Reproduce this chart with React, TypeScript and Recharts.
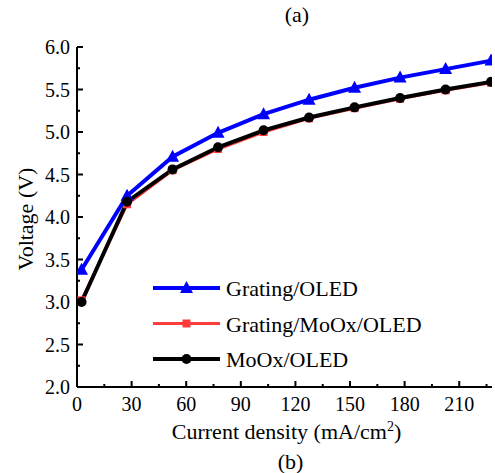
import { LineChart, Line, XAxis, YAxis } from "recharts";

// current density (mA/cm2) and voltage (V) per device
const currentDensity = [2.5, 27.5, 52.5, 77.5, 102.5, 127.5, 152.5, 177.5, 202.5, 227.5];
const gratingOled = [3.38, 4.25, 4.71, 4.99, 5.21, 5.38, 5.52, 5.64, 5.74, 5.84];
const gratingMoOxOled = [3.02, 4.15, 4.55, 4.8, 5.0, 5.16, 5.28, 5.39, 5.49, 5.58];
const moOxOled = [3.0, 4.18, 4.56, 4.82, 5.02, 5.17, 5.29, 5.4, 5.5, 5.59];

const xTicks = [0, 15, 30, 45, 60, 75, 90, 105, 120, 135, 150, 165, 180, 195, 210, 225];
const xMajor = [0, 30, 60, 90, 120, 150, 180, 210];
const yTicks = [2.0, 2.25, 2.5, 2.75, 3.0, 3.25, 3.5, 3.75, 4.0, 4.25, 4.5, 4.75, 5.0, 5.25, 5.5, 5.75, 6.0];
const yMajor = [2.0, 2.5, 3.0, 3.5, 4.0, 4.5, 5.0, 5.5, 6.0];

const data = currentDensity.map((x, i) => ({
  x,
  grating: gratingOled[i],
  gratingMoOx: gratingMoOxOled[i],
  moOx: moOxOled[i],
}));

const FONT = "Liberation Serif, serif";
const BLUE = "#0000ff";
const RED = "#ff3b3b";
const BLACK = "#000000";

const series = [
  { key: "grating", name: "Grating/OLED", color: BLUE, width: 4, shape: "triangle" },
  { key: "gratingMoOx", name: "Grating/MoOx/OLED", color: RED, width: 3, shape: "square" },
  { key: "moOx", name: "MoOx/OLED", color: BLACK, width: 4, shape: "circle" },
];

function Marker({ cx, cy, shape, color }: any) {
  if (cx == null || cy == null) return null;
  if (shape === "triangle")
    return <polygon points={`${cx},${cy - 7} ${cx - 6.5},${cy + 5} ${cx + 6.5},${cy + 5}`} fill={color} />;
  if (shape === "square") return <rect x={cx - 4} y={cy - 4} width={8} height={8} fill={color} />;
  return <circle cx={cx} cy={cy} r={5} fill={color} />;
}

const BottomTick = ({ x, y, payload }: any) => {
  const major = xMajor.includes(payload.value);
  return (
    <g>
      <line x1={x} x2={x} y1={y} y2={y - (major ? 6 : 3)} stroke="#000" strokeWidth={2} />
      {major && (
        <text x={x} y={y + 24} textAnchor="middle" fontFamily={FONT} fontSize={20} fill="#000">
          {payload.value}
        </text>
      )}
    </g>
  );
};

const LeftTick = ({ x, y, payload }: any) => {
  const major = yMajor.includes(payload.value);
  return (
    <g>
      <line x1={x} x2={x + (major ? 6 : 3)} y1={y} y2={y} stroke="#000" strokeWidth={2} />
      {major && (
        <text x={x - 7} y={y + 7} textAnchor="end" fontFamily={FONT} fontSize={20} fill="#000">
          {payload.value.toFixed(1)}
        </text>
      )}
    </g>
  );
};

const TopTick = ({ x, y }: any) => (
  <line x1={x} x2={x} y1={y} y2={y + 6} stroke="#000" strokeWidth={2} />
);

const RightTick = ({ x, y }: any) => (
  <line x1={x} x2={x - 6} y1={y} y2={y} stroke="#000" strokeWidth={2} />
);

// legend and panel caption drawn on top of the chart
const Overlay = () => (
  <svg width={495} height={473} style={{ position: "absolute", left: 0, top: 0, pointerEvents: "none" }}>
    <text x={297} y={22} textAnchor="middle" fontFamily={FONT} fontSize={22} fill="#000">
      (a)
    </text>
    {series.map((s, i) => {
      const cy = 288 + i * 35.5;
      return (
        <g key={s.key}>
          <line x1={153} x2={220} y1={cy} y2={cy} stroke={s.color} strokeWidth={s.width} />
          <Marker cx={186.5} cy={cy} shape={s.shape} color={s.color} />
          <text x={226} y={cy + 8} fontFamily={FONT} fontSize={22} fill="#000">
            {s.name}
          </text>
        </g>
      );
    })}
  </svg>
);

export default function App() {
  return (
    <div style={{ position: "absolute", left: 0, top: 0, width: 495, height: 473, background: "#fff" }}>
      <LineChart width={495} height={473} data={data} margin={{ top: 47, right: 3, left: 0, bottom: 0 }}>
        <XAxis
          xAxisId="bottom"
          dataKey="x"
          type="number"
          domain={[0, 228]}
          ticks={xTicks}
          interval={0}
          height={86}
          tickSize={0}
          tickMargin={0}
          tickLine={false}
          axisLine={{ stroke: "#000", strokeWidth: 2 }}
          tick={BottomTick}
          allowDataOverflow
          label={({ viewBox }: any) => {
            const { x, y, width } = viewBox;
            return (
              <g fontFamily={FONT} fill="#000">
                <text x={x + width / 2 + 2} y={y + 52} textAnchor="middle" fontSize={22}>
                  Current density (mA/cm<tspan dy={-8} fontSize={14}>2</tspan>
                  <tspan dy={8}>)</tspan>
                </text>
                <text x={x + width / 2 + 6} y={y + 82} textAnchor="middle" fontSize={22}>
                  (b)
                </text>
              </g>
            );
          }}
        />
        <XAxis
          xAxisId="top"
          orientation="top"
          type="number"
          domain={[0, 228]}
          ticks={xMajor}
          interval={0}
          height={0}
          tickSize={0}
          tickMargin={0}
          tickLine={false}
          axisLine={{ stroke: "#000", strokeWidth: 2 }}
          tick={TopTick}
          allowDataOverflow
        />
        <YAxis
          yAxisId="left"
          type="number"
          domain={[2, 6]}
          ticks={yTicks}
          interval={0}
          width={77}
          tickSize={0}
          tickMargin={0}
          tickLine={false}
          axisLine={{ stroke: "#000", strokeWidth: 2 }}
          tick={LeftTick}
          allowDataOverflow
          label={({ viewBox }: any) => {
            const cy = viewBox.y + viewBox.height / 2 + 2;
            return (
              <text
                x={0}
                y={0}
                transform={`translate(33, ${cy}) rotate(-90)`}
                textAnchor="middle"
                fontFamily={FONT}
                fontSize={22}
                fill="#000"
              >
                Voltage (V)
              </text>
            );
          }}
        />
        <YAxis
          yAxisId="right"
          orientation="right"
          type="number"
          domain={[2, 6]}
          ticks={yMajor}
          interval={0}
          width={0}
          tickSize={0}
          tickMargin={0}
          tickLine={false}
          axisLine={{ stroke: "#000", strokeWidth: 2 }}
          tick={RightTick}
          allowDataOverflow
        />
        {series.map((s) => (
          <Line
            key={s.key}
            xAxisId="bottom"
            yAxisId="left"
            dataKey={s.key}
            name={s.name}
            stroke={s.color}
            strokeWidth={s.width}
            dot={(p: any) => <Marker key={`${s.key}-${p.index}`} cx={p.cx} cy={p.cy} shape={s.shape} color={s.color} />}
            activeDot={false}
            isAnimationActive={false}
          />
        ))}
      </LineChart>
      <Overlay />
    </div>
  );
}
